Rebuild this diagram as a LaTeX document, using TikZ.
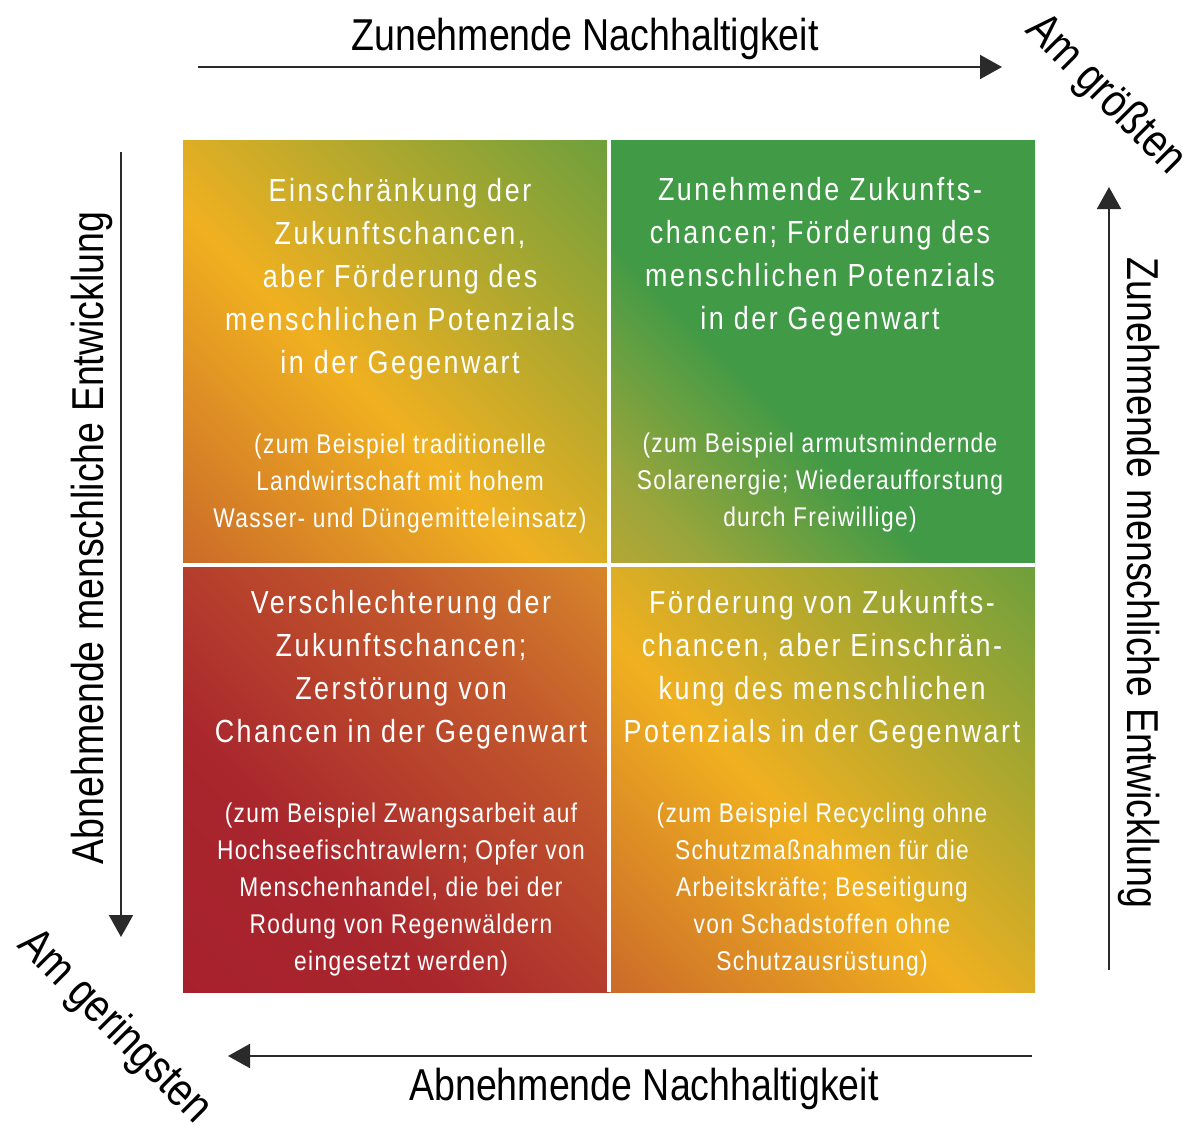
\documentclass[tikz,border=0pt]{standalone}
\usepackage{fontspec}
\setmainfont{Liberation Sans}
\newfontfamily\condfont[FakeStretch=0.84]{Liberation Sans}
\newfontfamily\headfont[FakeStretch=0.84,LetterSpace=8]{Liberation Sans}
\newfontfamily\notefont[FakeStretch=0.84,LetterSpace=5]{Liberation Sans}
\usetikzlibrary{arrows.meta}
\definecolor{axisgray}{RGB}{42,42,42}
\definecolor{deepred}{RGB}{165,30,45}
\definecolor{rustred}{RGB}{169,38,45}
\definecolor{burnt}{RGB}{194,88,44}
\definecolor{amber}{RGB}{216,136,42}
\definecolor{redorange}{RGB}{184,72,46}
\definecolor{sunyellow}{RGB}{240,176,32}
\definecolor{olive}{RGB}{158,166,59}
\definecolor{leafgreen}{RGB}{64,154,70}
\definecolor{straw}{RGB}{224,169,40}
% diagonal fills of the four fields
\pgfdeclarehorizontalshading{mixshade}{100bp}{color(0bp)=(redorange);
  color(44bp)=(sunyellow); color(100bp)=(leafgreen)}
\pgfdeclarehorizontalshading{greenshade}{100bp}{color(0bp)=(straw);
  color(22bp)=(olive); color(42bp)=(leafgreen); color(100bp)=(leafgreen)}
\pgfdeclarehorizontalshading{redshade}{100bp}{color(0bp)=(deepred);
  color(36bp)=(rustred); color(66bp)=(burnt); color(86bp)=(amber); color(100bp)=(sunyellow)}

\begin{document}
\begin{tikzpicture}[
  x=0.75pt, y=-0.75pt,
  axarrow/.style={draw=axisgray, line width=1.5pt,
                  -{Triangle[length=16.5pt, width=18pt]}},
  axlabel/.style={font=\condfont\fontsize{33.5}{36}\selectfont, text=black, inner sep=0pt},
  cornerlab/.style={axlabel, font=\condfont\fontsize{35}{38}\selectfont, rotate=-45},
  head/.style={font=\headfont\fontsize{24}{32.25}\selectfont, text=white, align=center,
               inner sep=0pt},
  note/.style={font=\notefont\fontsize{20.3}{27.75}\selectfont, text=white, align=center,
               inner sep=0pt}
]
\useasboundingbox (0,0) rectangle (1192,1128);

% fields
\shade[shading=mixshade, shading angle=45] (183,140) rectangle (609,565);
\shade[shading=greenshade, shading angle=45] (609,140) rectangle (1035,565);
\shade[shading=redshade, shading angle=45] (183,565) rectangle (609,992);
\shade[shading=mixshade, shading angle=45] (609,565) rectangle (1035,992);
\draw[white, line width=2.6pt] (609,140) -- (609,992);
\draw[white, line width=2.6pt] (183,565) -- (1035,565);

\node[head] (tlhead) at (400,279)
  {Einschränkung der\\Zukunftschancen,\\aber Förderung des\\menschlichen Potenzials\\in der Gegenwart};
\node[note] (tlnote) at (400,483)
  {(zum Beispiel traditionelle\\Landwirtschaft mit hohem\\Wasser- und Düngemitteleinsatz)};
\node[head] (trhead) at (820,257)
  {Zunehmende Zukunfts-\\chancen; Förderung des\\menschlichen Potenzials\\in der Gegenwart};
\node[note] (trnote) at (820,482)
  {(zum Beispiel armutsmindernde\\Solarenergie; Wiederaufforstung\\durch Freiwillige)};
\node[head] (blhead) at (401,670)
  {Verschlechterung der\\Zukunftschancen;\\Zerstörung von\\Chancen in der Gegenwart};
\node[note] (blnote) at (401,889)
  {(zum Beispiel Zwangsarbeit auf\\Hochseefischtrawlern; Opfer von\\Menschenhandel, die bei der\\Rodung von Regenwäldern\\eingesetzt werden)};
\node[head] (brhead) at (822,670)
  {Förderung von Zukunfts-\\chancen, aber Einschrän-\\kung des menschlichen\\Potenzials in der Gegenwart};
\node[note] (brnote) at (822,889)
  {(zum Beispiel Recycling ohne\\Schutzmaßnahmen für die\\Arbeitskräfte; Beseitigung\\von Schadstoffen ohne\\Schutzausrüstung)};

% axes
\coordinate (topstart) at (198,67);
\coordinate (topend) at (1002,67);
\coordinate (rightstart) at (1109,970);
\coordinate (rightend) at (1109,187);
\coordinate (botstart) at (1032,1056);
\coordinate (botend) at (228,1056);
\coordinate (leftstart) at (121,152);
\coordinate (leftend) at (121,937);
\draw[axarrow] (topstart) -- (topend);
\draw[axarrow] (rightstart) -- (rightend);
\draw[axarrow] (botstart) -- (botend);
\draw[axarrow] (leftstart) -- (leftend);

\node[axlabel, anchor=base] (toplab) at (585,50) {Zunehmende Nachhaltigkeit};
\node[axlabel, anchor=base] (botlab) at (644,1100) {Abnehmende Nachhaltigkeit};
\node[axlabel, anchor=base, rotate=90] (leftlab) at (103,538) {Abnehmende menschliche Entwicklung};
\node[axlabel, anchor=base, rotate=-90] (rightlab) at (1127,583) {Zunehmende menschliche Entwicklung};
\node[cornerlab] (maxlab) at (1105,95) {Am größten};
\node[cornerlab] (minlab) at (114,1027) {Am geringsten};
\end{tikzpicture}
\end{document}
